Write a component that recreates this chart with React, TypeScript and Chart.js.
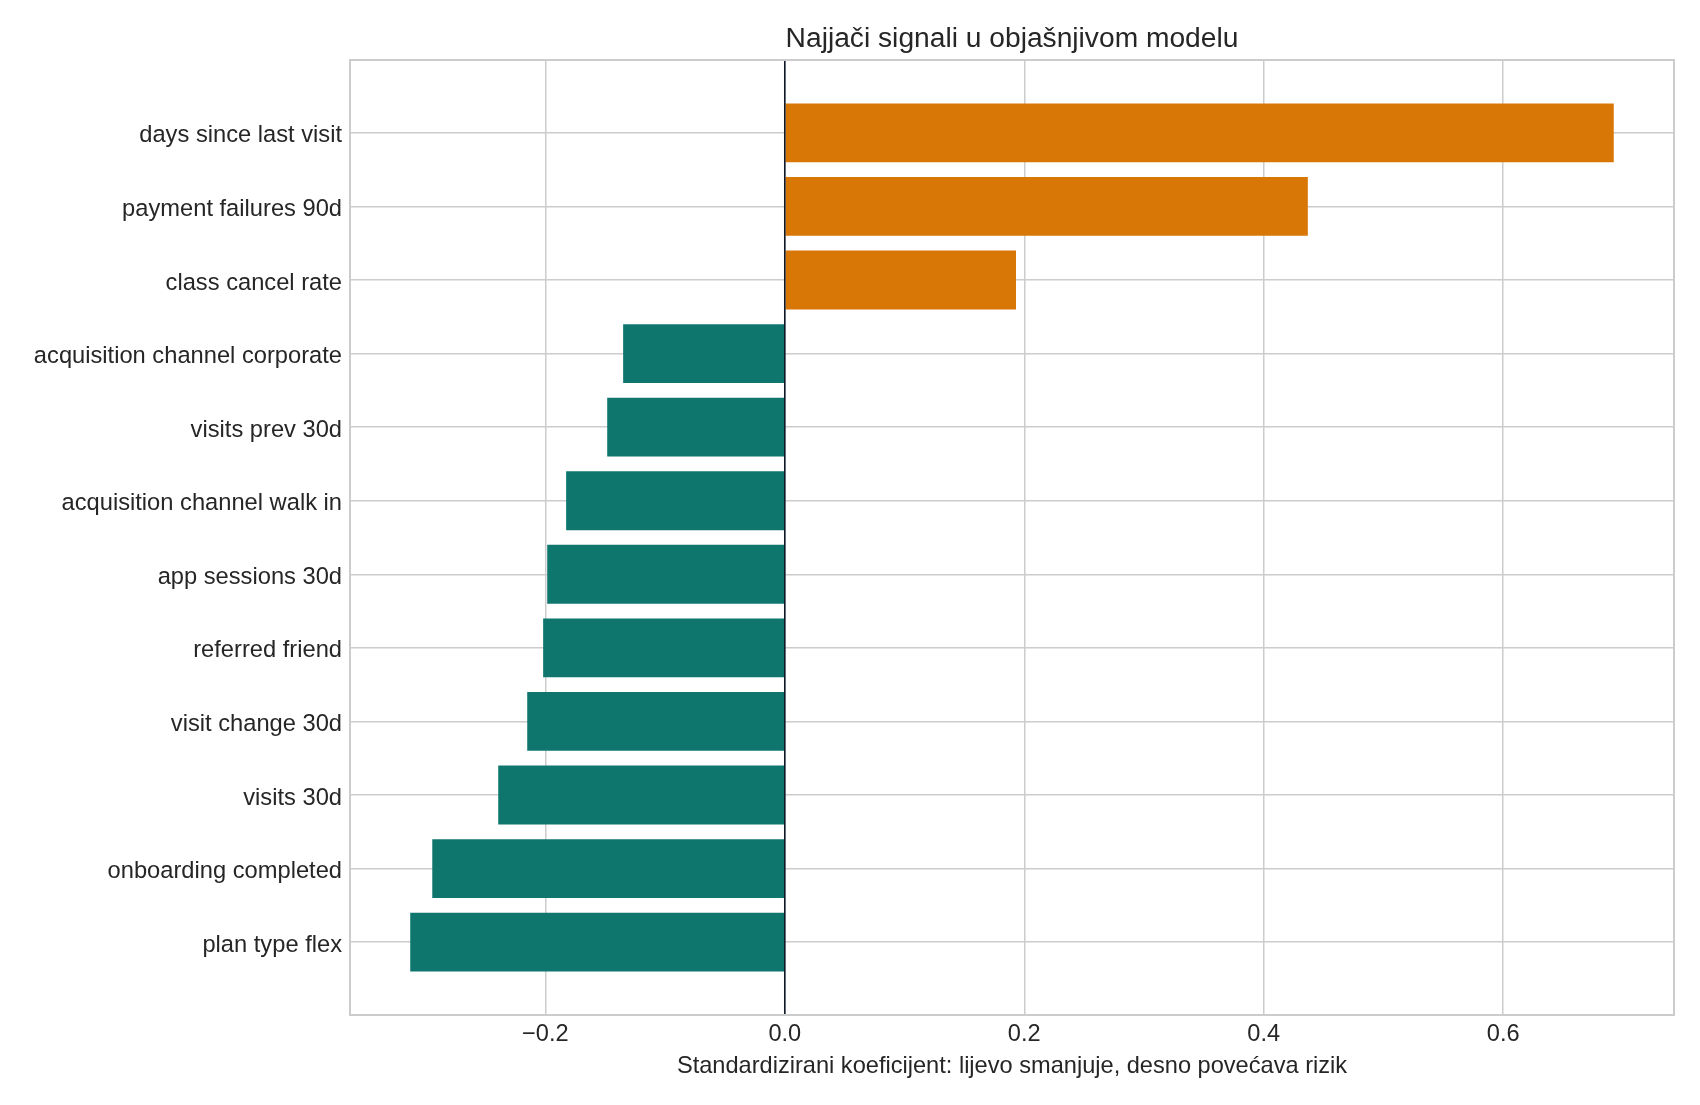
import React, { useEffect, useRef } from "react";
import { Chart, registerables } from "chart.js";

Chart.register(...registerables);

const features = [
  "days since last visit",
  "payment failures 90d",
  "class cancel rate",
  "acquisition channel corporate",
  "visits prev 30d",
  "acquisition channel walk in",
  "app sessions 30d",
  "referred friend",
  "visit change 30d",
  "visits 30d",
  "onboarding completed",
  "plan type flex",
];

const coefficients = [
  0.6923, 0.4368, 0.1931, -0.135, -0.1483, -0.1826, -0.1984, -0.2018, -0.2151, -0.2393, -0.2944, -0.3128,
];

const xTickValues = [-0.2, 0.0, 0.2, 0.4, 0.6];

const chartTitle = "Najjači signali u objašnjivom modelu";
const xAxisTitle = "Standardizirani koeficijent: lijevo smanjuje, desno povećava rizik";

const POS_COLOR = "#d97706";
const NEG_COLOR = "#0f766e";
const TEXT_COLOR = "#262626";
const GRID_COLOR = "#cccccc";
const FONT = "'Liberation Sans', Arial, Helvetica, sans-serif";

const W = 1700;
const H = 1105;

const decorPlugin = {
  id: "decor",
  afterDatasetsDraw(chart: any) {
    const { ctx, chartArea, scales } = chart;
    const { left, right, top, bottom } = chartArea;
    ctx.save();
    const x0 = scales.x.getPixelForValue(0);
    ctx.strokeStyle = "#111827";
    ctx.lineWidth = 1.6;
    ctx.beginPath();
    ctx.moveTo(x0, top);
    ctx.lineTo(x0, bottom);
    ctx.stroke();
    ctx.strokeStyle = GRID_COLOR;
    ctx.lineWidth = 2;
    ctx.strokeRect(left, top, right - left, bottom - top);
    ctx.restore();
  },
  afterDraw(chart: any) {
    const { ctx, chartArea } = chart;
    ctx.save();
    ctx.fillStyle = TEXT_COLOR;
    ctx.font = `28.2px ${FONT}`;
    ctx.textAlign = "center";
    ctx.textBaseline = "alphabetic";
    ctx.fillText(chartTitle, (chartArea.left + chartArea.right) / 2, 46.5);
    ctx.restore();
  },
};

export default function App() {
  const canvasRef = useRef<HTMLCanvasElement | null>(null);

  useEffect(() => {
    const canvas = canvasRef.current;
    if (!canvas) return;
    const chart = new Chart(canvas, {
      type: "bar",
      data: {
        datasets: [
          {
            data: coefficients.map((v, i) => ({ x: v, y: i })) as any,
            backgroundColor: coefficients.map((v) => (v >= 0 ? POS_COLOR : NEG_COLOR)),
            borderWidth: 0,
            barPercentage: 0.8,
            categoryPercentage: 1,
          },
        ],
      },
      options: {
        indexAxis: "y",
        animation: false,
        responsive: false,
        maintainAspectRatio: false,
        devicePixelRatio: 1,
        layout: { padding: { top: 60, right: 26, bottom: 0, left: 0 } },
        plugins: {
          legend: { display: false },
          title: { display: false },
          tooltip: { enabled: false },
        },
        scales: {
          x: {
            type: "linear",
            position: "bottom",
            offset: false,
            min: -0.3631,
            max: 0.7426,
            afterBuildTicks: (scale: any) => {
              scale.ticks = xTickValues.map((v) => ({ value: v }));
            },
            afterFit: (scale: any) => {
              scale.height = 90;
            },
            ticks: {
              maxRotation: 0,
              autoSkip: false,
              padding: 5,
              color: TEXT_COLOR,
              font: { family: FONT, size: 23.6 },
              callback: (v: any) => {
                const n = Number(v);
                const s = Math.abs(n).toFixed(1);
                return n < -1e-9 ? "\u2212" + s : s;
              },
            },
            grid: { color: GRID_COLOR, lineWidth: 1.5, drawTicks: false, offset: false },
            border: { display: false },
            title: {
              display: true,
              text: xAxisTitle,
              color: TEXT_COLOR,
              font: { family: FONT, size: 23.6 },
              padding: { top: 0, bottom: 24.5 },
            },
          },
          y: {
            type: "linear",
            offset: false,
            min: -0.99,
            max: 11.99,
            reverse: true,
            afterBuildTicks: (scale: any) => {
              scale.ticks = features.map((_, i) => ({ value: i }));
            },
            afterFit: (scale: any) => {
              scale.width = 350;
            },
            ticks: {
              autoSkip: false,
              padding: 8,
              labelOffset: 3,
              color: TEXT_COLOR,
              font: { family: FONT, size: 23.7 },
              callback: (v: any) => features[Math.round(Number(v))] ?? "",
            },
            grid: { color: GRID_COLOR, lineWidth: 1.5, drawTicks: false, offset: false },
            border: { display: false },
          },
        },
      } as any,
      plugins: [decorPlugin],
    });
    return () => chart.destroy();
  }, []);

  return (
    <div style={{ position: "fixed", left: 0, top: 0, width: W, height: H, background: "#ffffff" }}>
      <canvas ref={canvasRef} width={W} height={H} style={{ width: W, height: H, display: "block" }} />
    </div>
  );
}
